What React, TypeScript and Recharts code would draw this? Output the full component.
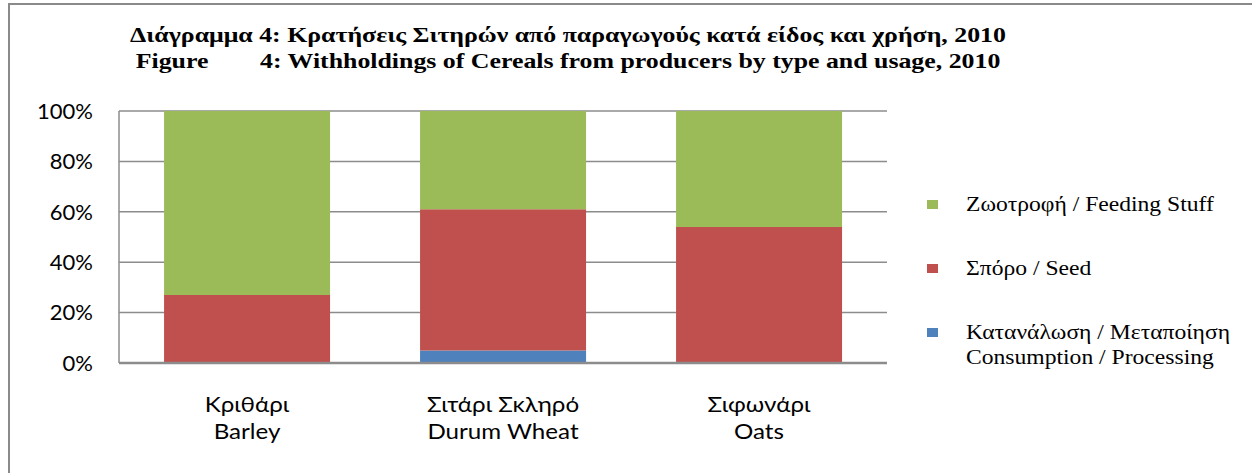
import { BarChart, Bar, XAxis, YAxis, CartesianGrid } from 'recharts';

// categories (Greek / English)
const categoriesGr = ['Κριθάρι', 'Σιτάρι Σκληρό', 'Σιφωνάρι'];
const categoriesEn = ['Barley', 'Durum Wheat', 'Oats'];

// shares in % (100% stacked)
const consumption = [0, 5, 0];
const seed = [27, 56, 54];
const feeding = [73, 39, 46];

const yTicks = [0, 20, 40, 60, 80, 100];

const data = categoriesEn.map((en, i) => ({
  name: en,
  gr: categoriesGr[i],
  consumption: consumption[i],
  seed: seed[i],
  feeding: feeding[i],
}));

const legendItems = [
  { color: '#9BBB59', lines: ['Ζωοτροφή / Feeding Stuff'] },
  { color: '#C0504D', lines: ['Σπόρο / Seed'] },
  { color: '#4F81BD', lines: ['Κατανάλωση / Μεταποίηση', 'Consumption / Processing'] },
];

const tickFont = 'Lato, "Open Sans", sans-serif';
const serif = '"Liberation Serif", "Times New Roman", serif';

const XTick = (props: any) => {
  const { x, y, payload, index } = props;
  return (
    <g transform={`translate(${x},${y}) scale(1.15,1)`}>
      <text x={0} y={41} textAnchor="middle" fontFamily={tickFont} fontSize={21} fill="#000">
        {categoriesGr[index] ?? payload.value}
      </text>
      <text x={0} y={68} textAnchor="middle" fontFamily={tickFont} fontSize={21} fill="#000">
        {payload.value}
      </text>
    </g>
  );
};

export default function App() {
  return (
    <div style={{ position: 'absolute', left: 0, top: 0, width: 1252, height: 473, overflow: 'hidden', background: '#fff' }}>
      <div style={{ position: 'absolute', left: 8, top: 3, width: 1400, height: 600, borderTop: '2px solid #8a8a8a', borderLeft: '2px solid #8a8a8a' }} />
      <div style={{ position: 'absolute', left: 0, top: 22, width: 1136, textAlign: 'center', fontFamily: serif, fontWeight: 'bold', fontSize: 21, lineHeight: '26px', color: '#000', transform: 'scaleX(1.23)', transformOrigin: '568px 0' }}>
        <div>Διάγραμμα 4: Κρατήσεις Σιτηρών από παραγωγούς κατά είδος και χρήση, 2010</div>
        <div>Figure&nbsp;&nbsp;&nbsp;&nbsp;&nbsp;&nbsp;&nbsp;&nbsp;4: Withholdings of Cereals from producers by type and usage, 2010</div>
      </div>
      <div style={{ position: 'absolute', left: 0, top: 0 }}>
        <BarChart width={1252} height={473} data={data} margin={{ top: 111, right: 365, bottom: 80, left: 0 }} barCategoryGap="17.6%">
          <CartesianGrid vertical={false} stroke="#8c8c8c" strokeWidth={1.5} />
          <YAxis
            width={119}
            domain={[0, 100]}
            ticks={yTicks}
            tickFormatter={(v: number) => `${v}%`}
            tickLine={false}
            tickMargin={20}
            axisLine={{ stroke: '#8c8c8c', strokeWidth: 1.5 }}
            tick={{ fill: '#000', fontSize: 22, fontFamily: tickFont }}
          />
          <XAxis
            dataKey="name"
            height={30}
            tickLine={false}
            axisLine={{ stroke: '#8c8c8c', strokeWidth: 2.5 }}
            tick={<XTick />}
            interval={0}
          />
          <Bar dataKey="consumption" stackId="a" fill="#4F81BD" isAnimationActive={false} />
          <Bar dataKey="seed" stackId="a" fill="#C0504D" isAnimationActive={false} />
          <Bar dataKey="feeding" stackId="a" fill="#9BBB59" isAnimationActive={false} />
        </BarChart>
      </div>
      {legendItems.map((item, i) => (
        <div key={i} style={{ position: 'absolute', left: 927, top: 192 + i * 64, fontFamily: serif, fontSize: 20, lineHeight: '25px', color: '#000' }}>
          <div style={{ position: 'absolute', left: 0, top: 8, width: 11, height: 9, background: item.color }} />
          <div style={{ position: 'absolute', left: 39, top: 0, whiteSpace: 'nowrap', transform: 'scaleX(1.18)', transformOrigin: '0 0' }}>
            {item.lines.map((l, j) => (
              <div key={j}>{l}</div>
            ))}
          </div>
        </div>
      ))}
    </div>
  );
}
